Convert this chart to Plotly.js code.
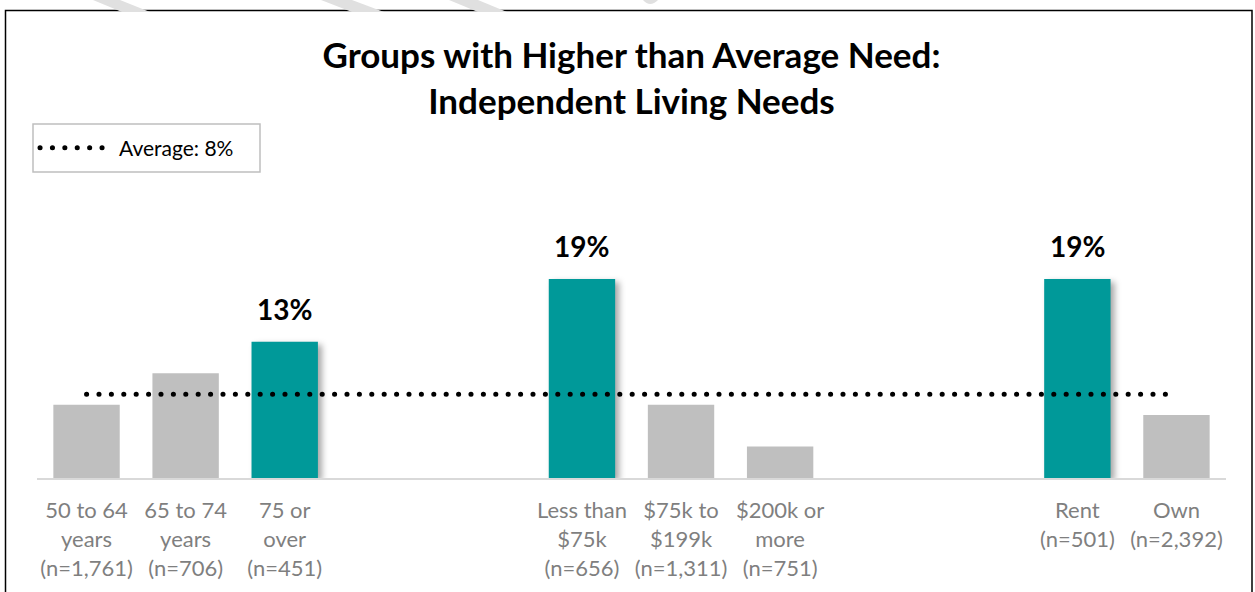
<!DOCTYPE html>
<html>
<head>
<meta charset="utf-8">
<script src="https://cdn.plot.ly/plotly-3.0.1.min.js"></script>
<style>
html,body{margin:0;padding:0;background:#fff;}
#chart{width:1255px;height:592px;}
</style>
</head>
<body>
<div id="chart"></div>
<script>
// ---- data ----
var categories = [
  '50 to 64<br>years<br>(n=1,761)',
  '65 to 74<br>years<br>(n=706)',
  '75 or<br>over<br>(n=451)',
  ' ', '  ',
  'Less than<br>$75k<br>(n=656)',
  '$75k to<br>$199k<br>(n=1,311)',
  '$200k or<br>more<br>(n=751)',
  '   ', '    ',
  'Rent<br>(n=501)',
  'Own<br>(n=2,392)'
];
var values = [7, 10, 13, null, null, 19, 7, 3, null, null, 19, 6];
var aboveAverage = [false, false, true, false, false, true, false, false, false, false, true, false];
var averageValue = 8;
var averageLabel = 'Average: 8%';
var titleText = 'Groups with Higher than Average Need:<br>Independent Living Needs';

// ---- styling ----
var TEAL = '#009999', GREY = '#bfbfbf';
var FONT = 'Lato, "Open Sans", sans-serif';
var W = 1255, H = 592, ML = 37, MR = 29, MT = 216, MB = 114;
var PW = W - ML - MR, PH = H - MT - MB;
function px2x(p){ return (p - ML) / PW; }
function py2y(p){ return (H - MB - p) / PH; }

var barColors = aboveAverage.map(function(h){ return h ? TEAL : GREY; });

var bars = {
  type: 'bar',
  x: categories,
  y: values,
  marker: {color: barColors, line: {width: 0}},
  showlegend: false,
  hoverinfo: 'skip'
};

var avgLine = {
  type: 'scatter',
  mode: 'lines',
  x: [categories[0], categories[categories.length - 1]],
  y: [averageValue, averageValue],
  name: averageLabel,
  line: {color: '#000', width: 5, dash: '5px,7px'},
  showlegend: true,
  hoverinfo: 'skip'
};

var annotations = [];
categories.forEach(function(c, i){
  if (aboveAverage[i] && values[i] != null) {
    annotations.push({
      x: c, y: values[i], xref: 'x', yref: 'y',
      text: '<b>' + values[i] + '%</b>',
      showarrow: false, yanchor: 'bottom', yshift: 14,
      font: {family: FONT, size: 28, color: '#000'}
    });
  }
});

function stripe(xa, xb, xc, xd){
  return {type: 'path', xref: 'paper', yref: 'paper', layer: 'below', line: {width: 0}, fillcolor: '#e0e0e0',
    path: 'M' + px2x(xa) + ',' + py2y(0) + ' L' + px2x(xb) + ',' + py2y(0) + ' L' + px2x(xc) + ',' + py2y(12) + ' L' + px2x(xd) + ',' + py2y(12) + ' Z'};
}

var shapes = [
  // outer frame
  {type: 'rect', xref: 'paper', yref: 'paper',
   x0: px2x(5.5), x1: px2x(1252), y0: py2y(10.5), y1: py2y(600),
   line: {color: '#000', width: 1.5}, fillcolor: 'rgba(0,0,0,0)', layer: 'below'},
  // legend box
  {type: 'rect', xref: 'paper', yref: 'paper',
   x0: px2x(33), x1: px2x(260), y0: py2y(124), y1: py2y(172),
   line: {color: '#bfbfbf', width: 1.5}, fillcolor: 'rgba(0,0,0,0)', layer: 'below'},
  // faint watermark stripes at the top
  stripe(93, 120, 150, 122),
  stripe(321, 352, 384, 352),
  stripe(449, 478, 507, 478),
  {type: 'path', xref: 'paper', yref: 'paper', layer: 'below', line: {width: 0}, fillcolor: '#e0e0e0',
   path: 'M' + px2x(643) + ',' + py2y(0) + ' Q' + px2x(650) + ',' + py2y(8) + ' ' + px2x(658) + ',' + py2y(0) + ' Z'}
];

var layout = {
  width: W, height: H,
  margin: {l: ML, r: MR, t: MT, b: MB},
  paper_bgcolor: '#fff', plot_bgcolor: '#fff',
  font: {family: FONT, color: '#000'},
  title: {
    text: '<b>' + titleText + '</b>',
    font: {family: FONT, size: 35, color: '#000'},
    x: 0.5, xref: 'paper', xanchor: 'center',
    y: 1 - 68 / H, yref: 'container', yanchor: 'top'
  },
  bargap: 0.33,
  xaxis: {
    type: 'category',
    categoryorder: 'array', categoryarray: categories,
    showline: true, linecolor: '#d9d9d9', linewidth: 2,
    showgrid: false, zeroline: false, ticks: '',
    ticklabelstandoff: 12,
    tickfont: {family: FONT, size: 22, color: '#7f7f7f'},
    fixedrange: true
  },
  yaxis: {
    range: [0, 25], visible: false, showgrid: false, zeroline: false, fixedrange: true
  },
  showlegend: true,
  legend: {
    x: px2x(35), y: py2y(148), xanchor: 'left', yanchor: 'middle',
    xref: 'paper', yref: 'paper',
    bgcolor: 'rgba(0,0,0,0)', borderwidth: 0,
    font: {family: FONT, size: 21, color: '#000'},
    itemwidth: 74
  },
  annotations: annotations,
  shapes: shapes
};

Plotly.newPlot('chart', [bars, avgLine], layout, {staticPlot: true, displayModeBar: false}).then(function(gd){
  // round dots for the average line
  var lines = gd.querySelectorAll('.scatterlayer .js-line, .legend .legendlines path');
  lines.forEach(function(p){
    p.style.setProperty('stroke-linecap', 'round');
    p.style.setProperty('stroke-dasharray', '0.1px,12.3px');
  });
  // soft shadow on highlighted bars
  var pts = gd.querySelectorAll('.barlayer .point path');
  pts.forEach(function(p){
    var f = (p.style.fill || '').replace(/\s/g, '');
    if (f === 'rgb(0,153,153)') {
      p.style.setProperty('filter', 'drop-shadow(4px 3px 3px rgba(0,0,0,0.35))');
    }
  });
});
</script>
</body>
</html>
